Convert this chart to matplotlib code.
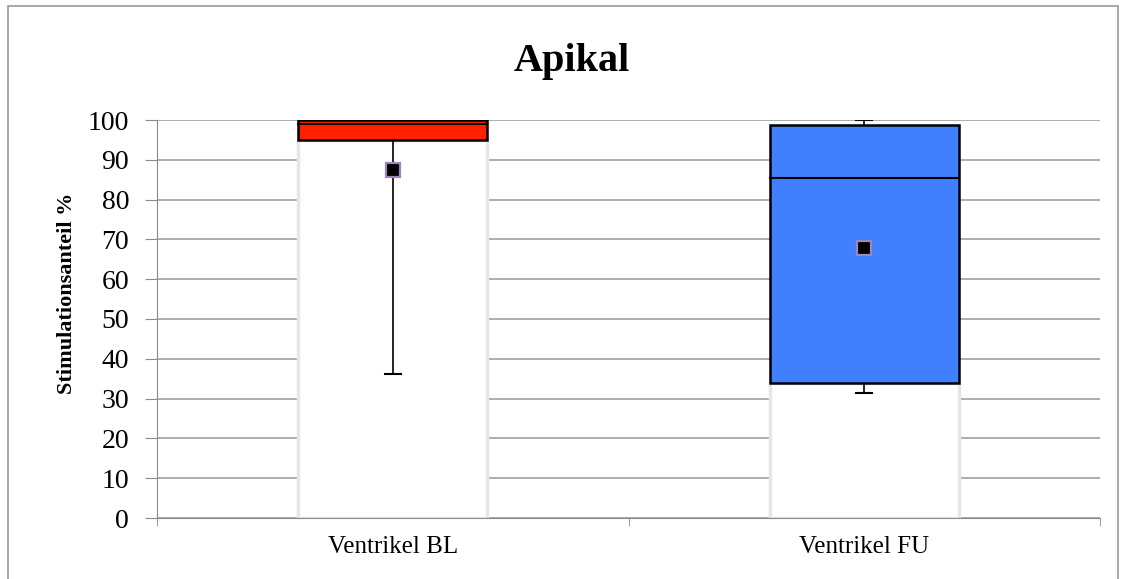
import matplotlib
matplotlib.use("Agg")
import matplotlib.pyplot as plt
import matplotlib.patches as mpatches
import numpy as np

# box plot values
categories = ["Ventrikel BL", "Ventrikel FU"]
q1 = [95.0, 34.0]
median = [99.0, 85.5]
q3 = [100.0, 98.7]
whisker_low = [36.2, 31.4]
whisker_high = [100.0, 100.0]
mean = [87.4, 67.8]
box_colors = ["#ff2200", "#4080ff"]

plt.rcParams['font.family'] = ['Liberation Serif', 'DejaVu Serif']

fig = plt.figure(figsize=(11.23, 5.79), dpi=100)
ax = fig.add_axes([157/1123, 1-518/579, (1100-157)/1123, (518-120)/579])

# outer frame round the chart
fig.patches.append(mpatches.Rectangle((8/1123, -0.05), 1110/1123, 1.05-6/579,
                                      transform=fig.transFigure, fill=False,
                                      edgecolor="#9a9a9a", linewidth=1.2))

x = np.arange(len(categories))
w = 0.4

# faint ghost bars below the boxes
ax.bar(x, q1, width=w, color="white", edgecolor="#e6e6e6", linewidth=2.5, zorder=2)

# whiskers
for i in range(len(x)):
    ax.plot([x[i], x[i]], [whisker_low[i], whisker_high[i]], color="black", lw=1.2, zorder=3)
    for yv in (whisker_low[i], whisker_high[i]):
        ax.plot([x[i]-0.017, x[i]+0.017], [yv, yv], color="black", lw=1.5, zorder=3)

# boxes
heights = [q3[i]-q1[i] for i in range(len(x))]
ax.bar(x, heights, bottom=q1, width=w, color=box_colors, edgecolor="black", linewidth=1.8, zorder=4)
for i in range(len(x)):
    ax.plot([x[i]-w/2, x[i]+w/2], [median[i], median[i]], color="black", lw=1.5, zorder=5)

# means
ax.plot(x, mean, linestyle="none", marker="s", markersize=10.5, markerfacecolor="black",
        markeredgecolor="#9b86b8", markeredgewidth=1.6, zorder=6)

ax.set_xlim(-0.5, 1.5)
ax.set_ylim(0, 100)
ax.set_yticks(np.arange(0, 101, 10))
ax.set_xticks(x)
ax.set_xticklabels(categories, fontsize=18)
ax.set_xticks([-0.5, 0.5, 1.5], minor=True)
ax.tick_params(axis="x", which="major", length=0, pad=13)
ax.tick_params(axis="x", which="minor", length=6, color="#8a8a8a", direction="out")
ax.tick_params(axis="y", length=9, color="#8a8a8a", labelsize=20, pad=11)
ax.grid(axis="y", color="#a0a0a0", linewidth=1.2, zorder=1)
ax.set_axisbelow(True)
for s in ["top", "right"]:
    ax.spines[s].set_visible(False)
for s in ["left", "bottom"]:
    ax.spines[s].set_color("#8a8a8a")

ax.set_ylabel("Stimulationsanteil %", fontsize=16, fontweight="bold")
ax.yaxis.set_label_coords((77-157)/943, (518-293)/398)
fig.text(572/1123, 1-62/579, "Apikal", ha="center", va="center", fontsize=29, fontweight="bold")

fig.savefig("out.png", dpi=100)
